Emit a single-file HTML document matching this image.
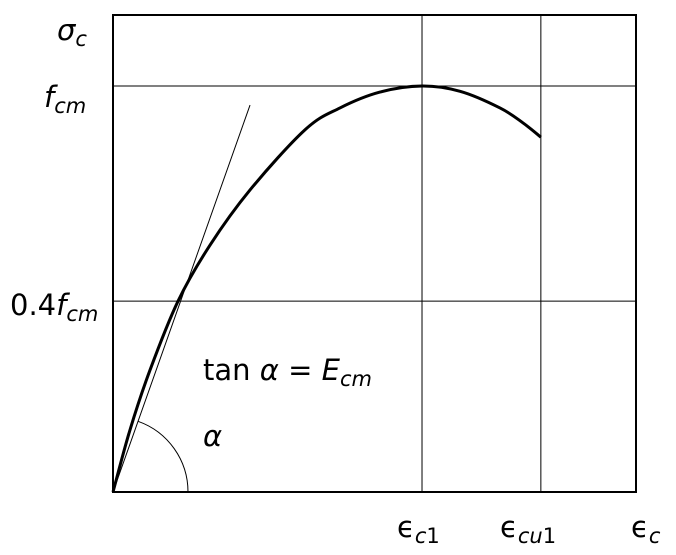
<!DOCTYPE html>
<html><head><meta charset="utf-8"><style>
body{margin:0;background:#fff}
svg{display:block}
text{font-family:"DejaVu Sans","Liberation Sans",sans-serif;fill:#000}
</style></head><body>
<svg id="chart" width="676" height="555" viewBox="0 0 676 555" xmlns="http://www.w3.org/2000/svg">
<rect x="113" y="15" width="523" height="477" fill="none" stroke="#000" stroke-width="2"/>
<g id="grid"></g>
<path id="tangent" fill="none" stroke="#000" stroke-width="1"/>
<path id="arc" fill="none" stroke="#000" stroke-width="1"/>
<path id="curve" fill="none" stroke="#000" stroke-width="3"/>
<text x="57" y="40" font-size="29" font-style="italic">σ<tspan font-size="21" dy="6">c</tspan></text>
<text x="44" y="107" font-size="29" font-style="italic">f<tspan font-size="21" dy="6">cm</tspan></text>
<text x="10" y="315" font-size="29">0.4<tspan font-style="italic">f</tspan><tspan font-size="21" dy="6" font-style="italic">cm</tspan></text>
<text x="397" y="537" font-size="29">ϵ<tspan font-size="21" dy="6" font-style="italic">c</tspan><tspan font-size="21">1</tspan></text>
<text x="500" y="537" font-size="29">ϵ<tspan font-size="21" dy="6" font-style="italic">cu</tspan><tspan font-size="21">1</tspan></text>
<text x="631" y="537" font-size="29">ϵ<tspan font-size="21" dy="6" font-style="italic">c</tspan></text>
<text x="203" y="380" font-size="29">tan <tspan font-style="italic">α</tspan> = <tspan font-style="italic">E</tspan><tspan font-size="21" dy="6" font-style="italic">cm</tspan></text>
<text x="203" y="446" font-size="29" font-style="italic">α</text>
</svg>
<script>
const curveX=[0,0.143,0.311,0.547,0.816,1.153,1.615,1.910,2.246,2.6,2.92,3.256,3.45,3.6];
const curveY=[0,0.153,0.300,0.470,0.608,0.744,0.892,0.946,0.985,1.0,0.987,0.946,0.909,0.874];
const gridX=[2.6,3.6];
const gridY=[0.47,1.0];
const tangentEnd=[1.153,0.953];
const xs=v=>113+v*118.85;
const ys=v=>492-v*406;
const NS="http://www.w3.org/2000/svg";
const g=document.getElementById('grid');
gridX.forEach(v=>{const l=document.createElementNS(NS,'line');
l.setAttribute('x1',xs(v));l.setAttribute('x2',xs(v));l.setAttribute('y1',15);l.setAttribute('y2',492);
l.setAttribute('stroke','#000');l.setAttribute('stroke-width','1');


g.appendChild(l);});
gridY.forEach(v=>{const l=document.createElementNS(NS,'line');
l.setAttribute('y1',ys(v));l.setAttribute('y2',ys(v));l.setAttribute('x1',113);l.setAttribute('x2',636);
l.setAttribute('stroke','#000');l.setAttribute('stroke-width','1');


g.appendChild(l);});
const P=curveX.map((x,i)=>[xs(x),ys(curveY[i])]);
let d='M'+P[0][0]+','+P[0][1];
for(let i=0;i<P.length-1;i++){const p0=P[i-1]||P[i],p1=P[i],p2=P[i+1],p3=P[i+2]||P[i+1];
d+=' C'+(p1[0]+(p2[0]-p0[0])/6)+','+(p1[1]+(p2[1]-p0[1])/6)+' '+(p2[0]-(p3[0]-p1[0])/6)+','+(p2[1]-(p3[1]-p1[1])/6)+' '+p2[0]+','+p2[1];}
document.getElementById('curve').setAttribute('d',d);
const ox=xs(0),oy=ys(0),tx=xs(tangentEnd[0]),ty=ys(tangentEnd[1]);
document.getElementById('tangent').setAttribute('d',`M${ox},${oy} L${tx},${ty}`);
const ang=Math.atan2(oy-ty,tx-ox),r=75;
document.getElementById('arc').setAttribute('d',`M${ox+r*Math.cos(ang)},${oy-r*Math.sin(ang)} A${r},${r} 0 0 1 ${ox+r},${oy}`);
</script>
</body></html>
